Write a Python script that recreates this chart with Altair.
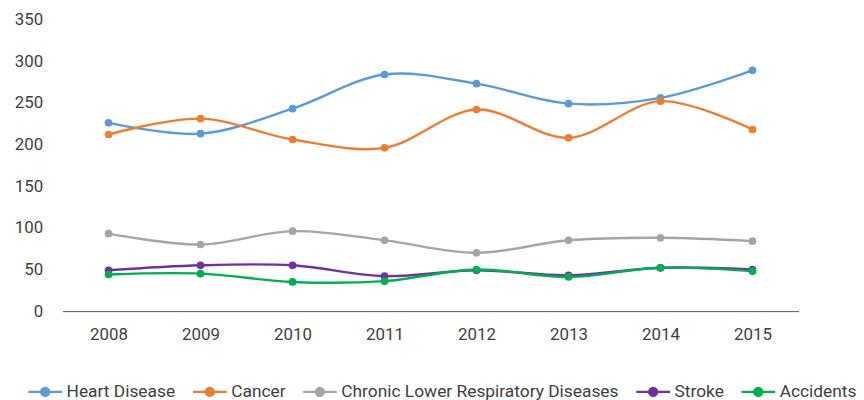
import altair as alt
import pandas as pd

years = ["2008", "2009", "2010", "2011", "2012", "2013", "2014", "2015"]
series = ["Heart Disease", "Cancer", "Chronic Lower Respiratory Diseases", "Stroke", "Accidents"]
heart = [226, 213, 243, 284, 273, 249, 256, 289]
cancer = [212, 231, 206, 196, 242, 208, 252, 218]
clrd = [93, 80, 96, 85, 70, 85, 88, 84]
stroke = [49, 55, 55, 42, 49, 43, 52, 50]
accidents = [44, 45, 35, 36, 50, 41, 52, 48]
colors = ["#5B9BD5", "#ED7D31", "#A5A5A5", "#7030A0", "#00B050"]

rows = []
for name, vals in zip(series, [heart, cancer, clrd, stroke, accidents]):
    for y, v in zip(years, vals):
        rows.append({"Year": y, "Series": name, "Value": v})
df = pd.DataFrame(rows)

FONT = "Roboto"

x = alt.X("Year:O", title=None, sort=years,
          axis=alt.Axis(labelAngle=0, ticks=False, domainColor="#595959", domainWidth=1,
                        labelPadding=16, labelFontSize=17, labelColor="#404040", grid=False))
y = alt.Y("Value:Q", title=None, scale=alt.Scale(domain=[0, 350], nice=False),
          axis=alt.Axis(values=list(range(0, 351, 50)), domain=False, ticks=False, grid=False,
                        labelPadding=20, labelFontSize=17, labelColor="#404040"))
color = alt.Color("Series:N", sort=series, scale=alt.Scale(domain=series, range=colors),
                  legend=alt.Legend(title=None, orient="none", direction="horizontal",
                                    legendX=-36, legendY=357,
                                    symbolType="M-1,0L1,0M-0.24,0A0.24,0.24,0,1,1,0.24,0A0.24,0.24,0,1,1,-0.24,0",
                                    symbolSize=1156, symbolStrokeWidth=2.2,
                                    labelFontSize=17.5, labelColor="#404040", labelOffset=3,
                                    labelLimit=0, columnPadding=13, symbolOffset=0))

base = alt.Chart(df)
lines = base.mark_line(interpolate="catmull-rom", strokeWidth=2.4).encode(x=x, y=y, color=color)
points = base.mark_point(filled=True, size=60, opacity=1).encode(x=x, y=y, color=color)

chart = alt.layer(lines, points).properties(
    width=742, height=294, autosize="none",
    padding={"left": 55, "top": 10, "right": 58, "bottom": 90},
).configure(font=FONT).configure_view(stroke=None)

chart.save("out.html", embed_options={"renderer": "svg", "actions": False})
